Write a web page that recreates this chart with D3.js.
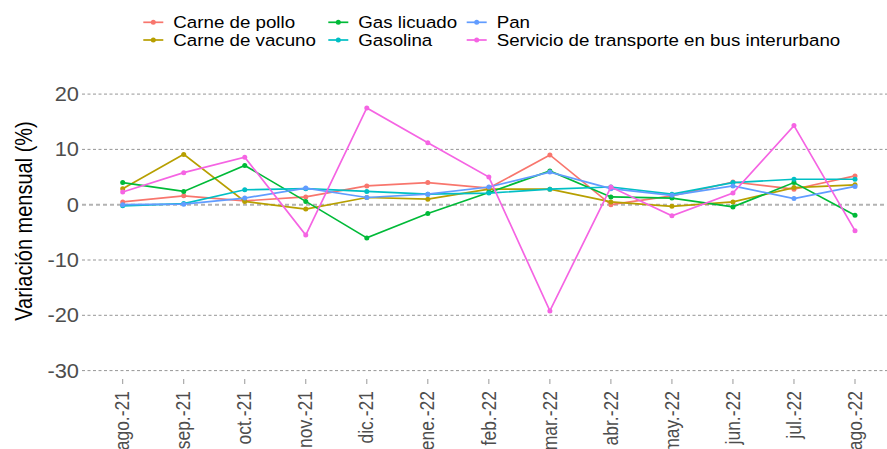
<!DOCTYPE html>
<html>
  <head>
    <meta charset="utf-8">
    <script src="https://cdn.jsdelivr.net/npm/d3@7"></script>
    <title></title>
    <style>
      body { margin: 0; background: #fff; }
      text { font-family: "Liberation Sans", Arial, sans-serif; }
    </style>
  </head>
  <body>
    <div id="chart"></div>
    <script>
    var meses = ["ago.-21","sep.-21","oct.-21","nov.-21","dic.-21","ene.-22","feb.-22","mar.-22","abr.-22","may.-22","jun.-22","jul.-22","ago.-22"];

    var pollo    = [0.5, 1.6, 0.7, 1.4, 3.4, 4.0, 3.0, 9.0, 0.0, 1.6, 4.1, 2.8, 5.2];
    var vacuno   = [2.9, 9.1, 0.6, -0.8, 1.3, 1.0, 2.8, 2.8, 0.5, -0.3, 0.5, 3.1, 3.6];
    var gas      = [4.0, 2.4, 7.1, 0.6, -6.0, -1.6, 2.2, 6.1, 1.4, 1.2, -0.4, 4.0, -1.9];
    var gasolina = [-0.2, 0.2, 2.7, 2.9, 2.4, 1.9, 2.1, 2.8, 3.2, 1.9, 4.0, 4.6, 4.6];
    var pan      = [0.0, 0.1, 1.2, 3.0, 1.3, 1.9, 3.2, 5.9, 2.9, 1.7, 3.4, 1.1, 3.3];
    var bus      = [2.3, 5.8, 8.6, -5.5, 17.5, 11.2, 5.0, -19.2, 3.2, -2.0, 2.1, 14.3, -4.7];

    var nombres = ["Carne de pollo","Carne de vacuno","Gas licuado","Gasolina","Pan","Servicio de transporte en bus interurbano"];
    var colores = ["#F8766D","#B79F00","#00BA38","#00BFC4","#619CFF","#F564E3"];
    var yTicks = [20, 10, 0, -10, -20, -30];

    var series = [pollo, vacuno, gas, gasolina, pan, bus].map(function(v, i) {
      return {name: nombres[i], color: colores[i], values: v};
    });

    var w = 887, h = 449;
    var svg = d3.select("#chart").append("svg")
        .attr("width", w).attr("height", h);

    var x = d3.scalePoint().domain(meses).range([122.7, 855]);
    var y = d3.scaleLinear().domain([-30, 20]).range([370.6, 94.1]);

    // grid
    svg.append("g").selectAll("line")
      .data(yTicks.filter(function(d) { return d != 0; }))
      .enter().append("line")
        .attr("x1", 82).attr("x2", w)
        .attr("y1", function(d) { return y(d); })
        .attr("y2", function(d) { return y(d); })
        .attr("stroke", "#8a8a8a").attr("stroke-width", 0.9)
        .attr("stroke-dasharray", "3,2.5");

    svg.append("line")
      .attr("x1", 82).attr("x2", w)
      .attr("y1", y(0)).attr("y2", y(0))
      .attr("stroke", "#b3b3b3").attr("stroke-width", 2)
      .attr("stroke-dasharray", "4,3");

    // y labels
    svg.append("g").selectAll("text")
      .data(yTicks)
      .enter().append("text")
        .attr("transform", function(d) { return "translate(79," + y(d) + ") scale(1.12,1)"; })
        .attr("text-anchor", "end")
        .attr("dy", "0.36em")
        .attr("font-size", "19.5px")
        .attr("fill", "#4d4d4d")
        .text(function(d) { return d; });

    svg.append("text")
      .attr("transform", "translate(32,221) scale(1.16,1) rotate(-90)")
      .attr("text-anchor", "middle")
      .attr("font-size", "20px")
      .attr("fill", "#000")
      .text("Variación mensual (%)");

    // x axis
    svg.append("g").selectAll("line")
      .data(meses)
      .enter().append("line")
        .attr("x1", function(d) { return x(d); })
        .attr("x2", function(d) { return x(d); })
        .attr("y1", 379).attr("y2", 384)
        .attr("stroke", "#999");

    svg.append("g").selectAll("text")
      .data(meses)
      .enter().append("text")
        .attr("transform", function(d) { return "translate(" + x(d) + ",391) scale(1.15,1) rotate(-90)"; })
        .attr("text-anchor", "end")
        .attr("dy", "0.33em")
        .attr("font-size", "17.5px")
        .attr("fill", "#4d4d4d")
        .text(function(d) { return d; });

    // lines
    var line = d3.line()
      .x(function(d, i) { return x(meses[i]); })
      .y(function(d) { return y(d); });

    var grp = svg.append("g").selectAll("g")
      .data(series)
      .enter().append("g");

    grp.append("path")
      .attr("d", function(d) { return line(d.values); })
      .attr("fill", "none")
      .attr("stroke", function(d) { return d.color; })
      .attr("stroke-width", 1.7);

    grp.selectAll("circle")
      .data(function(d) { return d.values.map(function(v, i) { return {v: v, i: i, color: d.color}; }); })
      .enter().append("circle")
        .attr("cx", function(d) { return x(meses[d.i]); })
        .attr("cy", function(d) { return y(d.v); })
        .attr("r", 2.5)
        .attr("fill", function(d) { return d.color; });

    // legend
    var colX = [143.3, 328.3, 466.7];
    var rowY = [22.3, 40];
    var leg = svg.append("g").selectAll("g")
      .data(series)
      .enter().append("g")
        .attr("transform", function(d, i) {
          return "translate(" + colX[Math.floor(i / 2)] + "," + rowY[i % 2] + ")";
        });

    leg.append("line")
      .attr("x1", 0).attr("x2", 20)
      .attr("stroke", function(d) { return d.color; })
      .attr("stroke-width", 1.7);
    leg.append("circle")
      .attr("cx", 10).attr("r", 2.5)
      .attr("fill", function(d) { return d.color; });
    leg.append("text")
      .attr("transform", "translate(30,0) scale(1.15,1)")
      .attr("dy", "0.36em")
      .attr("font-size", "16.3px")
      .attr("fill", "#000")
      .text(function(d) { return d.name; });
    </script>
  </body>
</html>
